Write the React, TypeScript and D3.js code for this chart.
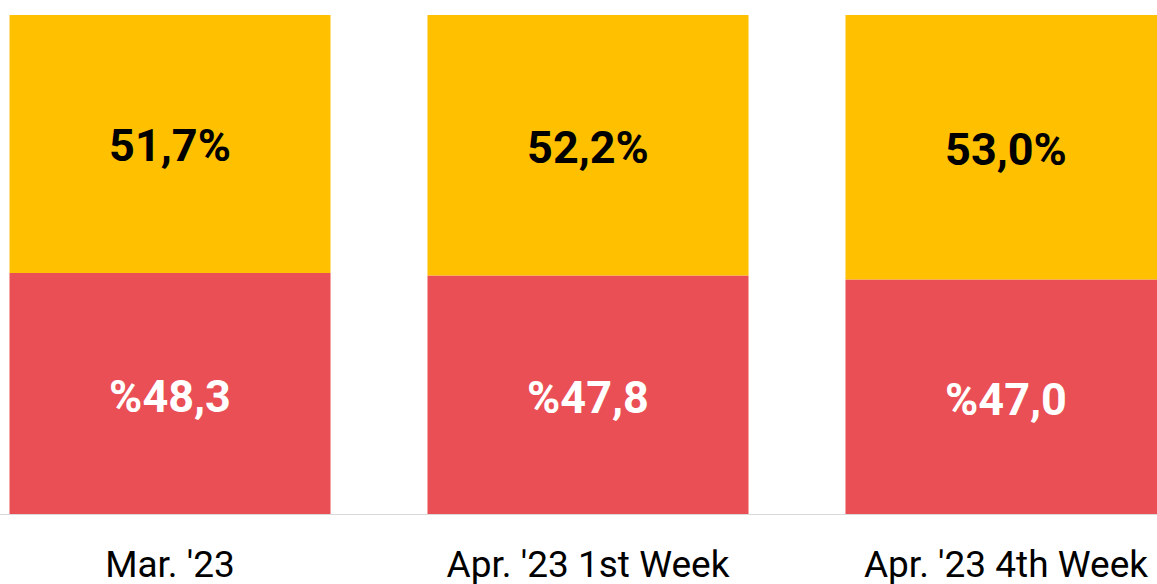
import React from "react";
import * as d3 from "d3";

const categories = ["Mar. '23", "Apr. '23 1st Week", "Apr. '23 4th Week"];
const redValues = [48.3, 47.8, 47.0];
const yellowValues = [51.7, 52.2, 53.0];
const redLabels = ["%48,3", "%47,8", "%47,0"];
const yellowLabels = ["51,7%", "52,2%", "53,0%"];

const W = 1157;
const H = 584;

export default function App() {
  const x = d3.scaleBand<string>().domain(categories).range([9.5, 1166.5]).paddingInner(0.232).paddingOuter(0);
  const y = d3.scaleLinear().domain([0, 100]).range([514, 15]);
  const rows = categories.map((c, i) => ({ c, red: redValues[i], yellow: yellowValues[i] }));
  const stack = d3.stack<any>().keys(["red", "yellow"])(rows);
  const colors: Record<string, string> = { red: "#E94F55", yellow: "#FFC000" };
  const font = "Roboto, 'DejaVu Sans', sans-serif";
  return (
    <svg width={W} height={H} style={{ position: "absolute", left: 0, top: 0, display: "block" }}>
      {stack.map((s) =>
        s.map((d, i) => {
          const cx = x(categories[i])! + x.bandwidth() / 2;
          const y0 = y(d[0]);
          const y1 = y(d[1]);
          const isRed = s.key === "red";
          return (
            <g key={s.key + i}>
              <rect x={x(categories[i])} y={y1} width={x.bandwidth()} height={y0 - y1} fill={colors[s.key]} />
              <text
                x={cx}
                y={(y0 + y1) / 2 + (isRed ? 3 : 2)}
                textAnchor="middle"
                dominantBaseline="central"
                fontFamily={font}
                fontWeight={700}
                fontSize={45}
                fill={isRed ? "#ffffff" : "#000000"}
              >
                {isRed ? redLabels[i] : yellowLabels[i]}
              </text>
            </g>
          );
        })
      )}
      <line x1={0} x2={W} y1={514.5} y2={514.5} stroke="#d9d9d9" strokeWidth={1} />
      {categories.map((c) => (
        <text
          key={c}
          x={x(c)! + x.bandwidth() / 2}
          y={577}
          textAnchor="middle"
          fontFamily={font}
          fontWeight={400}
          fontSize={37}
          fill="#000"
        >
          {c}
        </text>
      ))}
    </svg>
  );
}
